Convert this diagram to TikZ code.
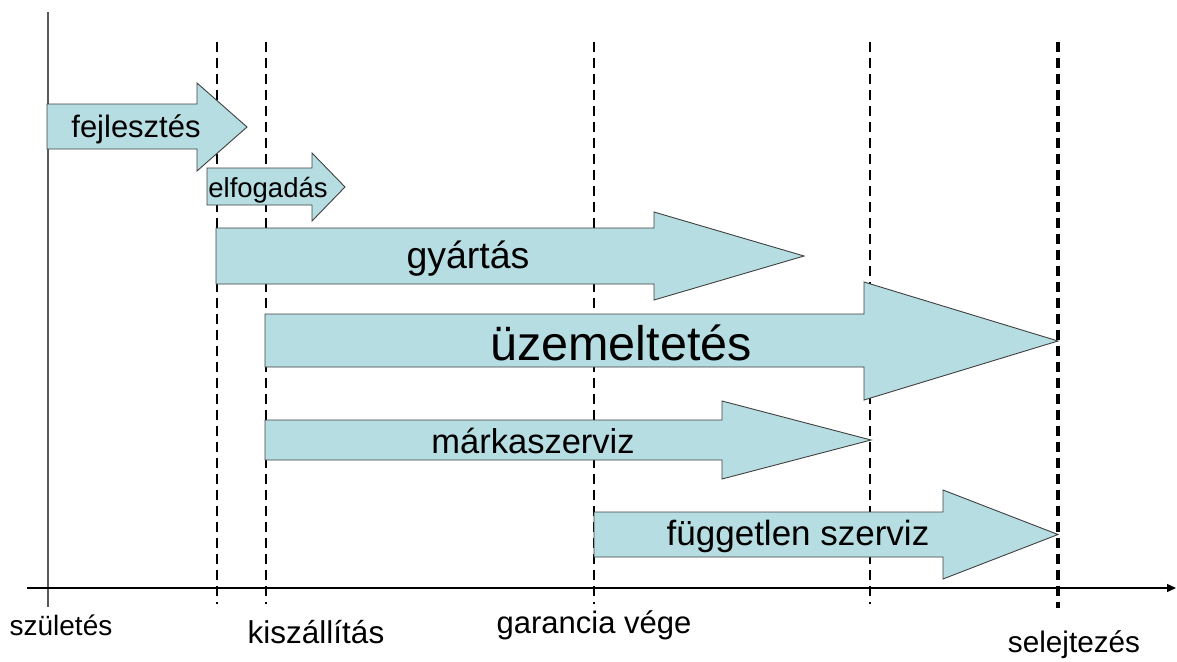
\documentclass[tikz,border=0pt]{standalone}
\usepackage{fontspec}
\setmainfont{Liberation Sans}
\usetikzlibrary{arrows.meta,positioning}
\definecolor{phasefill}{RGB}{182,221,226}
\tikzset{
  phase/.style={draw=black!75,line width=0.9pt,fill=phasefill,line join=miter},
  milestone/.style={line width=2.2pt,dash pattern=on 10pt off 6pt},
  lbl/.style={inner sep=0pt,anchor=base,font=\fontsize{#1}{#1}\selectfont},
}
% body from x0, top/bottom, head base, head top/bottom, tip
\newcommand{\phasearrow}[7]{%
  \draw[phase] (#1,#2) -- (#4,#2) -- (#4,#5) -- (#7,{(#5+#6)/2})
    -- (#4,#6) -- (#4,#3) -- (#1,#3) -- cycle;}

\begin{document}
\begin{tikzpicture}[x=1pt,y=-1pt]
\useasboundingbox (0,0) rectangle (1177,661);
% axes
\coordinate (Ytop) at (48,12);
\coordinate (Ybot) at (48,607);
\coordinate (Xl) at (27,588);
\coordinate (Xr) at (1176,588);
\draw[line width=2.2pt,black!65] (Ytop) -- (Ybot);
\draw[line width=1.4pt,-{Triangle[length=9pt,width=8pt]}] (Xl) -- (Xr);
% milestones
\foreach \x in {217,266,594,870}
  \draw[milestone] (\x,42) -- (\x,604);
\draw[milestone,line width=3.8pt] (1058,42) -- (1058,608);
% phases
\phasearrow{47}{104}{149}{197}{83}{171}{247}
\phasearrow{207}{168}{205}{312}{153}{221}{345}
\phasearrow{216}{228}{284}{654}{212}{300}{804}
\phasearrow{265}{314}{367}{864}{282}{400}{1058}
\phasearrow{265}{420}{460}{722}{401}{479}{871}
\phasearrow{594}{512}{557}{943}{490}{579}{1058}
\node[lbl=31] (fejl) at (136,137) {fejlesztés};
\node[lbl=27.5] (elfo) at (268,197) {elfogadás};
\node[lbl=37.5] (gyar) at (468,268) {gyártás};
\node[lbl=48.5] (uzem) at (621,360) {üzemeltetés};
\node[lbl=34.5] (mark) at (533,453) {márkaszerviz};
\node[lbl=35] (fugg) at (798,545) {független szerviz};
% time points
\node[lbl=28] (szul) at (61,635) {születés};
\node[lbl=31.5] (kisz) at (316,643) {kiszállítás};
\node[lbl=31] (gara) at (594,633) {garancia vége};
\node[lbl=29.7] (sele) at (1074,652) {selejtezés};
\end{tikzpicture}
\end{document}
